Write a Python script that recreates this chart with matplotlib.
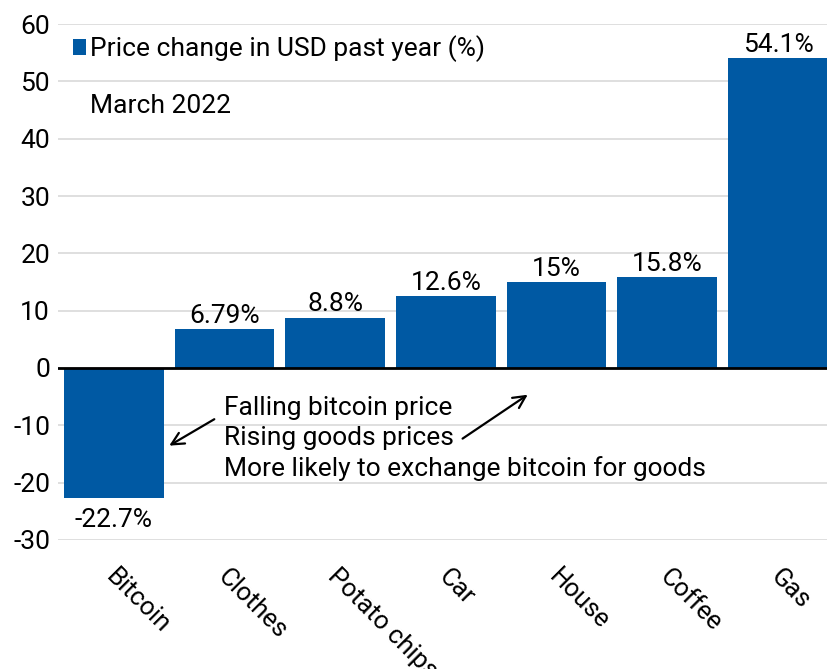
import matplotlib.pyplot as plt

plt.rcParams["font.family"] = ["Roboto", "DejaVu Sans"]

categories = ["Bitcoin", "Clothes", "Potato chips", "Car", "House", "Coffee", "Gas"]
values = [-22.7, 6.79, 8.8, 12.6, 15.0, 15.8, 54.1]
value_labels = ["-22.7%", "6.79%", "8.8%", "12.6%", "15%", "15.8%", "54.1%"]
y_ticks = [-30, -20, -10, 0, 10, 20, 30, 40, 50, 60]

bar_color = "#0059a3"
fs = 19

fig = plt.figure(figsize=(8.28, 6.69), dpi=100)
ax = fig.add_axes([0.0705, 0.193, 0.936, 0.771])

x = list(range(len(categories)))
bars = ax.bar(x, values, width=0.9, color=bar_color,
              label="Price change in USD past year (%)", zorder=3)

for b, v, lab in zip(bars, values, value_labels):
    cx = b.get_x() + b.get_width() / 2
    if v >= 0:
        ax.text(cx, v + 0.2, lab, ha="center", va="bottom", fontsize=fs)
    else:
        ax.text(cx, v - 1.7, lab, ha="center", va="top", fontsize=fs)

ax.set_xlim(-0.5, len(categories) - 0.5)
ax.set_ylim(-30, 60)
ax.set_yticks(y_ticks)
ax.set_yticklabels([str(t) for t in y_ticks], fontsize=fs)
ax.set_xticks(x)
ax.set_xticklabels([])
ax.tick_params(axis="both", length=0)
ax.tick_params(axis="y", pad=6)

# rotated category labels below the axis
for i, cat in zip(x, categories):
    ax.annotate(cat, xy=(i, 0), xycoords=("data", "axes fraction"),
                xytext=(3.6, -17.5), textcoords="offset points",
                fontsize=18.5, rotation=-45, ha="left", va="top",
                rotation_mode="anchor", annotation_clip=False)

ax.grid(axis="y", color="#d9d9d9", linewidth=1.2, zorder=0)
ax.axhline(0, color="black", linewidth=2, zorder=4)
for s in ax.spines.values():
    s.set_visible(False)

ax.legend(loc="upper left", bbox_to_anchor=(0.0, 1.006), frameon=False,
          fontsize=fs, handlelength=0.5, handleheight=0.5, handletextpad=0.15,
          borderaxespad=0.15)
ax.text(0.041, 0.842, "March 2022", transform=ax.transAxes, fontsize=fs,
        ha="left", va="center")

ax.text(1.0, -4.9, "Falling bitcoin price\nRising goods prices\n"
        "More likely to exchange bitcoin for goods",
        fontsize=fs, ha="left", va="top", linespacing=1.3)
ax.annotate("", xy=(0.48, -13.8), xytext=(0.93, -8.7),
            arrowprops=dict(arrowstyle="->", color="black", lw=1.6,
                            mutation_scale=22))
ax.annotate("", xy=(3.76, -4.4), xytext=(3.13, -12.6),
            arrowprops=dict(arrowstyle="->", color="black", lw=1.6,
                            mutation_scale=22))

fig.savefig("out.png", dpi=100)
